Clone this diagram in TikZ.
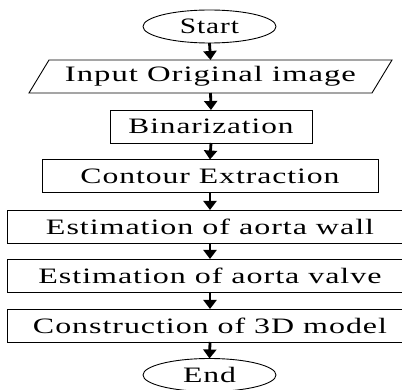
\documentclass[tikz,border=0pt]{standalone}
\usepackage{fontspec}
\setmainfont{Liberation Serif}[LetterSpace=3]
\usepackage{graphicx}
\usetikzlibrary{shapes.geometric,arrows.meta}
\newcommand\tw[2]{\resizebox{#1pt}{\height}{#2}}
\begin{document}
\begin{tikzpicture}[x=1pt,y=-1pt,
  every node/.style={inner sep=0pt,outer sep=0pt,font=\fontsize{22}{25}\selectfont},
  term/.style={draw,line width=0.9pt,ellipse,minimum width=133pt,minimum height=33pt},
  io/.style={draw,line width=0.9pt,trapezium,trapezium left angle=45,trapezium right angle=135,
    trapezium stretches body,minimum width=363pt,minimum height=33pt},
  proc/.style={draw,line width=0.9pt,rectangle,minimum height=33pt},
  flow/.style={line width=2.8pt,-{Triangle[width=13pt,length=9pt]}}]
\clip (0,0) rectangle (402,390);
\useasboundingbox (0,0) rectangle (402,390);
\node[term] (start) at (209.5,26.5) {\tw{59}{Start}};
\node[io] (in) at (210.5,76.5) {\tw{291}{Input Original image}};
\node[proc,minimum width=202pt] (bin) at (211,126.5) {\tw{165}{Binarization}};
\node[proc,minimum width=336pt] (cont) at (210,176) {\tw{259}{Contour Extraction}};
\node[proc,minimum width=405pt] (wall) at (210,226.5) {\tw{328}{Estimation of aorta wall}};
\node[proc,minimum width=405pt] (valve) at (210,275.5) {\tw{343}{Estimation of aorta valve}};
\node[proc,minimum width=405pt] (cons) at (210,325.5) {\tw{354}{Construction of 3D model}};
\node[term] (end) at (209.5,375) {\tw{53}{End}};
\draw[flow] (start.south) -- (in.north);
\draw[flow] (in.south) -- (bin.north);
\draw[flow] (bin.south) -- (cont.north);
\draw[flow] (cont.south) -- (wall.north);
\draw[flow] (wall.south) -- (valve.north);
\draw[flow] (valve.south) -- (cons.north);
\draw[flow] (cons.south) -- (end.north);
\end{tikzpicture}
\end{document}
